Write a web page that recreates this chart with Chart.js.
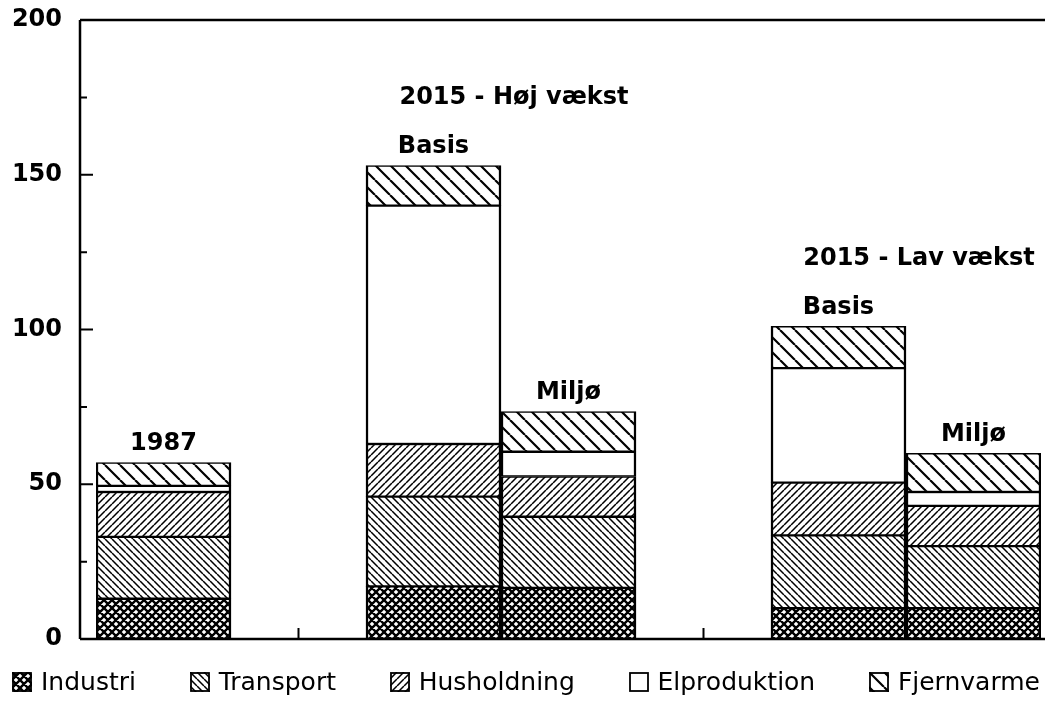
<!DOCTYPE html>
<html>
<head>
<meta charset="utf-8">
<script src="https://cdn.jsdelivr.net/npm/chart.js@4"></script>
<style>
html, body { margin: 0; padding: 0; background: #fff; }
#wrap { position: relative; width: 1045px; height: 707px; }
#legend {
  position: absolute; left: 12px; right: 5px; top: 667px;
  display: flex; justify-content: space-between; align-items: center;
  font-family: "DejaVu Sans", sans-serif; font-size: 25px; color: #000;
}
#legend span.item { display: flex; align-items: center; }
#legend canvas { margin-right: 9px; }
</style>
</head>
<body>
<div id="wrap">
<canvas id="chart" width="1045" height="707"></canvas>
<div id="legend"></div>
</div>
<script>
// data
const categories = ["1987", "", "Basis", "Miljø", "", "Basis", "Miljø"];
const industri = [13, null, 17, 16.5, null, 10, 10];
const transport = [20, null, 29, 23, null, 23.5, 20];
const husholdning = [14.5, null, 17, 13, null, 17, 13];
const elproduktion = [2, null, 77, 8, null, 37, 4.5];
const fjernvarme = [7.5, null, 13, 13, null, 13.5, 12.5];
const seriesNames = ["Industri", "Transport", "Husholdning", "Elproduktion", "Fjernvarme"];
const yTicks = [0, 50, 100, 150, 200];
const groupTitles = ["2015 - Høj vækst", "2015 - Lav vækst"];
const groupStart = [2, 5];

// hatch fills
function hatch(kind) {
  const s = kind === "sparse" ? 15 : kind === "cross" ? 8 : 7;
  const c = document.createElement("canvas");
  c.width = c.height = s;
  const g = c.getContext("2d");
  g.fillStyle = "#fff";
  g.fillRect(0, 0, s, s);
  g.strokeStyle = "#000";
  g.lineWidth = kind === "cross" ? 2.4 : kind === "sparse" ? 2.2 : 1.5;
  g.beginPath();
  if (kind !== "fwd") {
    for (const k of [-s, 0, s]) { g.moveTo(k, 0); g.lineTo(k + s, s); }
  }
  if (kind === "fwd" || kind === "cross") {
    for (const k of [-s, 0, s]) { g.moveTo(k, s); g.lineTo(k + s, 0); }
  }
  g.stroke();
  return g.createPattern(c, "repeat");
}

const fills = [hatch("cross"), hatch("back"), hatch("fwd"), "#fff", hatch("sparse")];
const values = [industri, transport, husholdning, elproduktion, fjernvarme];

// frame, ticks and bar labels
const framePlugin = {
  id: "frame",
  afterDatasetsDraw(chart) {
    const ctx = chart.ctx;
    const a = chart.chartArea;
    const y = chart.scales.y;
    const x = chart.scales.x;
    const left = a.left - 16;
    ctx.save();
    ctx.strokeStyle = "#000";
    ctx.lineWidth = 2.5;
    ctx.beginPath();
    ctx.moveTo(left, a.top);
    ctx.lineTo(left, a.bottom);
    ctx.moveTo(left, a.top);
    ctx.lineTo(chart.width, a.top);
    ctx.moveTo(left, a.bottom);
    ctx.lineTo(chart.width, a.bottom);
    ctx.stroke();
    ctx.lineWidth = 2;
    ctx.beginPath();
    for (let v = 25; v < 200; v += 25) {
      const py = y.getPixelForValue(v);
      ctx.moveTo(left, py);
      ctx.lineTo(left + (v % 50 === 0 ? 13 : 7), py);
    }
    categories.forEach((c, i) => {
      if (c === "") {
        const px = x.getPixelForValue(i);
        ctx.moveTo(px, a.bottom);
        ctx.lineTo(px, a.bottom - 11);
      }
    });
    ctx.stroke();

    const top = chart.getDatasetMeta(4).data;
    ctx.fillStyle = "#000";
    ctx.font = "bold 24px 'DejaVu Sans'";
    ctx.textAlign = "center";
    ctx.textBaseline = "middle";
    categories.forEach((c, i) => {
      if (c !== "" && top[i]) ctx.fillText(c, top[i].x, top[i].y - 19);
    });
    groupTitles.forEach((t, k) => {
      const b = top[groupStart[k]], m = top[groupStart[k] + 1];
      ctx.fillText(t, (b.x + m.x) / 2 + 13, b.y - 68);
    });
    ctx.restore();
  }
};

new Chart(document.getElementById("chart"), {
  type: "bar",
  data: {
    labels: categories,
    datasets: seriesNames.map((name, i) => ({
      label: name,
      data: values[i],
      backgroundColor: fills[i],
      borderColor: "#000",
      borderWidth: { top: 1.5, bottom: 1.5, left: 2.5, right: 2.5 },
      borderSkipped: false,
      barPercentage: 1,
      categoryPercentage: 1
    }))
  },
  options: {
    responsive: false,
    animation: false,
    events: [],
    layout: { autoPadding: false, padding: { top: 20, right: 4, bottom: 68, left: 0 } },
    plugins: { legend: { display: false }, tooltip: { enabled: false } },
    scales: {
      x: { stacked: true, display: false },
      y: {
        stacked: true,
        min: yTicks[0],
        max: yTicks[yTicks.length - 1],
        afterBuildTicks: s => { s.ticks = yTicks.map(v => ({ value: v })); },
        afterFit: s => { s.width = 96; s.paddingTop = 0; s.paddingBottom = 0; },
        grid: { display: false },
        border: { display: false },
        ticks: {
          padding: 26,
          color: "#000",
          font: { family: "DejaVu Sans", size: 24, weight: "bold" }
        }
      }
    }
  },
  plugins: [framePlugin]
});

// legend
const legend = document.getElementById("legend");
seriesNames.forEach((name, i) => {
  const item = document.createElement("span");
  item.className = "item";
  const box = document.createElement("canvas");
  box.width = 20; box.height = 20;
  const g = box.getContext("2d");
  g.fillStyle = fills[i];
  g.fillRect(0, 0, 20, 20);
  g.strokeStyle = "#000";
  g.lineWidth = 1.8;
  g.strokeRect(1, 1, 18, 18);
  item.appendChild(box);
  item.appendChild(document.createTextNode(name));
  legend.appendChild(item);
});
</script>
</body>
</html>
